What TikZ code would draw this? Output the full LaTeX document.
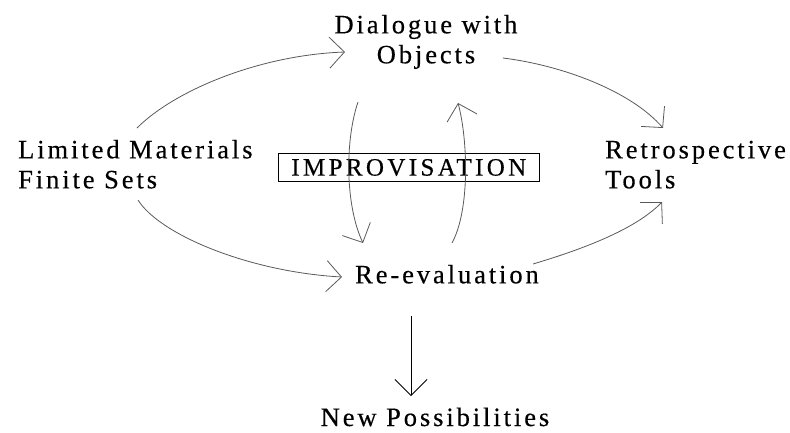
\documentclass[tikz,border=0pt]{standalone}
\usepackage{fontspec}
\usetikzlibrary{arrows.meta}
\newfontfamily\lsfont[LetterSpace=11,FakeBold=0.4]{Liberation Serif}
\newfontfamily\bxfont[LetterSpace=13.5,FakeBold=0.4]{Liberation Serif}
\begin{document}
\begin{tikzpicture}[x=1pt,y=-1pt,
  lbl/.style={inner sep=0pt, font=\lsfont\fontsize{26.5}{30}\selectfont, text=black},
  curve/.style={draw=black!65, line width=0.8pt, -{Straight Barb[length=15pt,width=31pt,line width=0.8pt]}},
  straight/.style={draw=black, line width=0.8pt, -{Straight Barb[length=16pt,width=32pt,line width=0.8pt]}},
  boxed/.style={draw=black, line width=0.9pt, inner sep=0pt, minimum width=261pt, minimum height=28.4pt, font=\bxfont\fontsize{25}{28}\selectfont}]
\useasboundingbox (0,0) rectangle (790,432);
% nodes
\node[lbl, anchor=base west, align=left] (lim) at (18,188.3) {Limited Materials\\Finite Sets};
\node[lbl, anchor=base, align=center] (dia) at (426,63.3) {Dialogue with\\Objects};
\node[lbl, anchor=base west, align=left] (ret) at (605,188.3) {Retrospective\\Tools};
\node[lbl, anchor=base] (reev) at (447,283.3) {Re-evaluation};
\node[lbl, anchor=base] (newp) at (435,426) {New Possibilities};
\node[boxed] (imp) at (408.8,167.5) {IMPROVISATION};
% connector end points
\coordinate (s1) at (137,128);  \coordinate (e1) at (345,52);
\coordinate (s2) at (138,200);  \coordinate (e2) at (342,277);
\coordinate (s3) at (503,58);   \coordinate (e3) at (663,128);
\coordinate (s4) at (533,264);  \coordinate (e4) at (662,202);
\coordinate (s5) at (358,102);  \coordinate (e5) at (363,243);
\coordinate (s6) at (452,243);  \coordinate (e6) at (458,103);
\coordinate (s7) at (411,316);  \coordinate (e7) at (411,396);
% connectors
\draw[curve] (s1) .. controls (175,90) and (260,55) .. (e1);
\draw[curve] (s2) .. controls (160,235) and (250,272) .. (e2);
\draw[curve] (s3) .. controls (560,65) and (630,90) .. (e3);
\draw[curve] (s4) .. controls (580,250) and (635,230) .. (e4);
\draw[curve] (s5) .. controls (345,140) and (345,205) .. (e5);
\draw[curve] (s6) .. controls (470,210) and (468,140) .. (e6);
\draw[straight] (s7) -- (e7);
\end{tikzpicture}
\end{document}
